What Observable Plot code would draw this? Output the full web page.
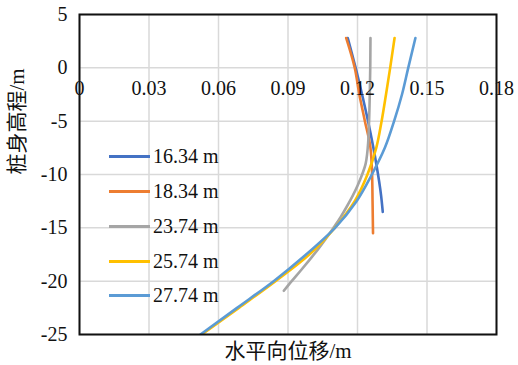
<!DOCTYPE html>
<html>
<head>
<meta charset="utf-8">
<script src="https://cdn.jsdelivr.net/npm/d3@7"></script>
<script src="https://cdn.jsdelivr.net/npm/@observablehq/plot@0.6"></script>
<style>
  html, body { margin: 0; padding: 0; background: #fff; }
  #wrap { position: relative; width: 518px; height: 365px; }
  #legend { position: absolute; left: 109px; top: 0; font-family: "Liberation Serif", "Times New Roman", serif; font-size: 20px; color: #111; }
  .item { position: absolute; left: 0; height: 24px; display: flex; align-items: center; white-space: nowrap; }
  .swatch { width: 41px; height: 3px; margin-right: 3px; }
</style>
</head>
<body>
<div id="wrap"><div id="legend"></div></div>
<script>
// Pile-top excavation depths (series names) and their colours
const seriesNames = ["16.34 m", "18.34 m", "23.74 m", "25.74 m", "27.74 m"];
const seriesColors = ["#4472C4", "#ED7D31", "#A5A5A5", "#FFC000", "#5B9BD5"];

// Pile elevation (m) and horizontal displacement (m) for each series
const elev1634 = [2.8, 0, -3, -6, -9, -12, -13.5];
const disp1634 = [0.1158, 0.1192, 0.1225, 0.1255, 0.1281, 0.1302, 0.1309];

const elev1834 = [2.8, 0, -2.5, -5, -7.5, -10, -12.5, -15.5];
const disp1834 = [0.1151, 0.1188, 0.1208, 0.1232, 0.1256, 0.1263, 0.1265, 0.1267];

const elev2374 = [2.8, 0, -2.5, -5, -7, -8, -9, -10, -11, -12, -13, -14, -15, -16, -17, -18, -19, -20, -20.9];
const disp2374 = [0.1256, 0.1255, 0.1253, 0.1250, 0.1246, 0.1242, 0.1235, 0.1220, 0.1201, 0.1179, 0.1154, 0.1127, 0.1096, 0.1064, 0.1030, 0.0993, 0.0955, 0.0916, 0.0882];

const elev2574 = [2.8, 0, -2.5, -5, -7.5, -10, -12.5, -15, -17.5, -20, -22.5, -25];
const disp2574 = [0.1360, 0.1341, 0.1323, 0.1304, 0.1281, 0.1243, 0.1188, 0.1102, 0.0992, 0.0846, 0.0688, 0.0528];

const elev2774 = [2.8, 0, -2.5, -5, -7.5, -10, -12.5, -15, -17.5, -20, -22.5, -25];
const disp2774 = [0.1450, 0.1419, 0.1392, 0.1358, 0.1318, 0.1262, 0.1196, 0.1103, 0.0978, 0.0838, 0.0680, 0.0522];

// Axis ticks
const xTicks = [0, 0.03, 0.06, 0.09, 0.12, 0.15, 0.18];
const xTickLabels = ["0", "0.03", "0.06", "0.09", "0.12", "0.15", "0.18"];
const yTicks = [5, 0, -5, -10, -15, -20, -25];

const xTitle = "水平向位移/m";
const yTitle = "桩身高程/m";

const elevs = [elev1634, elev1834, elev2374, elev2574, elev2774];
const disps = [disp1634, disp1834, disp2374, disp2574, disp2774];
const rows = [];
seriesNames.forEach((name, i) => {
  elevs[i].forEach((e, j) => rows.push({series: name, x: disps[i][j], y: e}));
});

const serif = "'Liberation Serif', 'Times New Roman', 'Noto Sans CJK SC', serif";

const chart = Plot.plot({
  width: 518,
  height: 365,
  marginLeft: 79,
  marginRight: 22,
  marginTop: 14,
  marginBottom: 31,
  style: {fontFamily: serif, background: "#fff", overflow: "visible"},
  x: {domain: [0, 0.18], axis: null},
  y: {domain: [-25, 5], axis: null},
  color: {domain: seriesNames, range: seriesColors},
  marks: [
    Plot.gridX(xTicks, {stroke: "#d9d9d9", strokeOpacity: 1, strokeWidth: 1.5}),
    Plot.gridY(yTicks, {stroke: "#d9d9d9", strokeOpacity: 1, strokeWidth: 1.5}),
    Plot.line(rows, {x: "x", y: "y", z: "series", stroke: "series", strokeWidth: 2.6, curve: "monotone-y", clip: true}),
    Plot.frame({stroke: "#111", strokeWidth: 2}),
    Plot.text(xTicks, {x: d => d, y: 0, dy: 21, text: (d, i) => xTickLabels[i], fontSize: 20, fill: "#111", fontFamily: serif}),
    Plot.text(yTicks, {x: 0, y: d => d, dx: -12, text: d => String(d), textAnchor: "end", fontSize: 20, fill: "#111", fontFamily: serif}),
    Plot.text([xTitle], {frameAnchor: "bottom", dy: 17, text: d => d, fontSize: 21, fill: "#111", fontFamily: serif, lineAnchor: "middle"}),
    Plot.text([yTitle], {frameAnchor: "left", dx: -62, rotate: -90, text: d => d, fontSize: 21, fill: "#111", fontFamily: serif, lineAnchor: "middle"})
  ]
});
document.getElementById("wrap").prepend(chart);

// Legend inside the plot area
const legend = document.getElementById("legend");
const legendTops = [156, 191, 226, 261, 295];
seriesNames.forEach((name, i) => {
  const item = document.createElement("div");
  item.className = "item";
  item.style.top = (legendTops[i] - 12) + "px";
  const sw = document.createElement("span");
  sw.className = "swatch";
  sw.style.background = seriesColors[i];
  const label = document.createElement("span");
  label.textContent = name;
  item.append(sw, label);
  legend.append(item);
});
</script>
</body>
</html>
